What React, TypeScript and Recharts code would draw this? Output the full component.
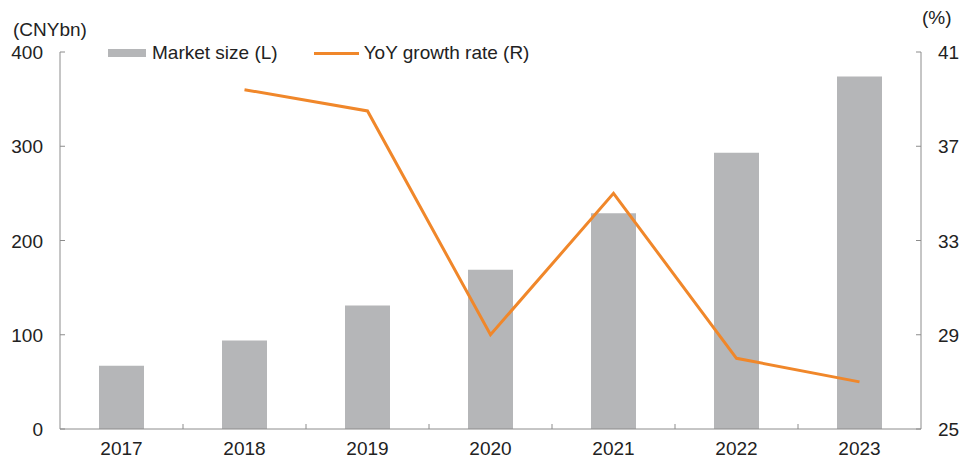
import { Bar, ComposedChart, Line, XAxis, YAxis } from 'recharts'

const years = ['2017', '2018', '2019', '2020', '2021', '2022', '2023']
const marketSize = [67, 94, 131, 169, 229, 293, 374]
const yoyGrowth: (number | null)[] = [null, 39.4, 38.5, 29.0, 35.0, 28.0, 27.0]
const leftTicks = [0, 100, 200, 300, 400]
const rightTicks = [25, 29, 33, 37, 41]

const data = years.map((year, i) => ({ year, size: marketSize[i], yoy: yoyGrowth[i] }))

const FONT = '"Liberation Sans", Arial, sans-serif'
const FS = 19
const AXIS = '#8c8c8c'
const TEXT = '#222'
const BAR = '#b5b6b8'
const LINE = '#f0872a'
const TICK_SIZE = 0
const TICK_MARGIN = 17
const BAND = 123

function LeftTick(props: any) {
  const { x, y, payload } = props
  const ax = x + TICK_SIZE + TICK_MARGIN
  return (
    <g>
      <line x1={ax} x2={ax + 5} y1={y} y2={y} stroke={AXIS} />
      <text x={x} y={y} dy={7} textAnchor="end" fill={TEXT} fontSize={FS} fontFamily={FONT}>{payload.value}</text>
    </g>
  )
}

function RightTick(props: any) {
  const { x, y, payload } = props
  const ax = x - TICK_SIZE - TICK_MARGIN
  return (
    <g>
      <line x1={ax} x2={ax - 5} y1={y} y2={y} stroke={AXIS} />
      <text x={x} y={y} dy={7} textAnchor="start" fill={TEXT} fontSize={FS} fontFamily={FONT}>{payload.value}</text>
    </g>
  )
}

function BottomTick(props: any) {
  const { x, y, payload, index } = props
  const ay = y - TICK_SIZE - 6
  return (
    <g>
      {index > 0 && <line x1={x - BAND / 2} x2={x - BAND / 2} y1={ay} y2={ay - 5} stroke={AXIS} />}
      <text x={x} y={y} dy={20} textAnchor="middle" fill={TEXT} fontSize={FS} fontFamily={FONT}>{payload.value}</text>
    </g>
  )
}

function ChartLegend() {
  return (
    <div style={{ position: 'absolute', left: 108, top: 42, display: 'flex', alignItems: 'center', fontFamily: FONT, fontSize: FS, color: TEXT, zIndex: 2 }}>
      <span style={{ width: 38, height: 8, background: BAR, display: 'inline-block', marginRight: 6 }} />
      <span>Market size (L)</span>
      <span style={{ width: 45, height: 3, background: LINE, display: 'inline-block', marginLeft: 36, marginRight: 5 }} />
      <span>YoY growth rate (R)</span>
    </div>
  )
}

export default function App() {
  return (
    <div style={{ position: 'absolute', left: 0, top: 0, width: 973, height: 461, background: '#fff' }}>
      <div style={{ position: 'absolute', left: 13, top: 19, fontFamily: FONT, fontSize: FS, color: TEXT }}>(CNYbn)</div>
      <div style={{ position: 'absolute', left: 922, top: 7, fontFamily: FONT, fontSize: FS, color: TEXT }}>(%)</div>
      <ChartLegend />
      <ComposedChart width={973} height={461} data={data} margin={{ top: 52, right: 0, bottom: 0, left: 0 }} barSize={45}>
        <XAxis
          dataKey="year"
          height={32}
          stroke={AXIS}
          tickLine={false}
          tickSize={TICK_SIZE}
          tickMargin={6}
          tick={<BottomTick />}
          interval={0}
        />
        <YAxis
          yAxisId="left"
          orientation="left"
          width={60}
          domain={[0, 400]}
          ticks={leftTicks}
          stroke={AXIS}
          tickLine={false}
          tickSize={TICK_SIZE}
          tickMargin={TICK_MARGIN}
          tick={<LeftTick />}
          interval={0}
        />
        <YAxis
          yAxisId="right"
          orientation="right"
          width={52}
          domain={[25, 41]}
          ticks={rightTicks}
          stroke={AXIS}
          tickLine={false}
          tickSize={TICK_SIZE}
          tickMargin={TICK_MARGIN}
          tick={<RightTick />}
          interval={0}
        />
        <Bar yAxisId="left" dataKey="size" name="Market size (L)" fill={BAR} isAnimationActive={false} />
        <Line
          yAxisId="right"
          dataKey="yoy"
          name="YoY growth rate (R)"
          stroke={LINE}
          strokeWidth={3}
          dot={false}
          activeDot={false}
          isAnimationActive={false}
        />
      </ComposedChart>
    </div>
  )
}
